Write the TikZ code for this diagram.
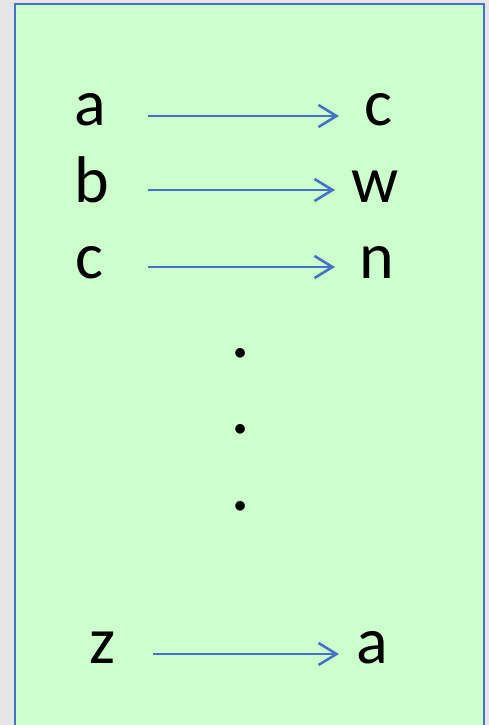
\documentclass[tikz,border=0pt]{standalone}
\usepackage{fontspec}
\setmainfont{Carlito}
\usetikzlibrary{arrows.meta}
\definecolor{pagegray}{HTML}{E6E6E6}
\definecolor{boxgreen}{HTML}{CCFFCC}
\definecolor{edgeblue}{HTML}{4472C4}
\begin{document}
\begin{tikzpicture}[x=1pt,y=-1pt,
  letter/.style={anchor=base,inner sep=0pt,font=\fontsize{66pt}{66pt}\selectfont},
  arr/.style={draw=edgeblue,line width=2.6pt,-{Straight Barb[length=18pt,width=22pt,line width=2.6pt]}}]
  % page and panel
  \fill[pagegray] (0,0) rectangle (489,725);
  \useasboundingbox (0,0) rectangle (489,725);
  \filldraw[fill=boxgreen,draw=edgeblue,line width=2.4pt] (15,4) rectangle (484,730);
  % left column
  \node[letter] (l1) at (90,125) {a};
  \node[letter] (l2) at (92,202) {b};
  \node[letter] (l3) at (89,278) {c};
  \node[letter] (l4) at (103,663) {z};
  % right column
  \node[letter] (r1) at (378,125) {c};
  \node[letter] (r2) at (375,202) {w};
  \node[letter] (r3) at (377,278) {n};
  \node[letter] (r4) at (372,663) {a};
  % ellipsis dots
  \node[letter,font=\fontsize{80pt}{80pt}\selectfont] (d1) at (241,357) {.};
  \node[letter,font=\fontsize{80pt}{80pt}\selectfont] (d2) at (241,433) {.};
  \node[letter,font=\fontsize{80pt}{80pt}\selectfont] (d3) at (241,510) {.};
  % mappings
  \draw[arr] ([shift={(58,-9)}]l1.base) -- ([shift={(-39,-9)}]r1.base);
  \draw[arr] ([shift={(56,-12)}]l2.base) -- ([shift={(-40,-12)}]r2.base);
  \draw[arr] ([shift={(59,-11)}]l3.base) -- ([shift={(-42,-11)}]r3.base);
  \draw[arr] ([shift={(50,-9)}]l4.base) -- ([shift={(-33,-9)}]r4.base);
\end{tikzpicture}
\end{document}
